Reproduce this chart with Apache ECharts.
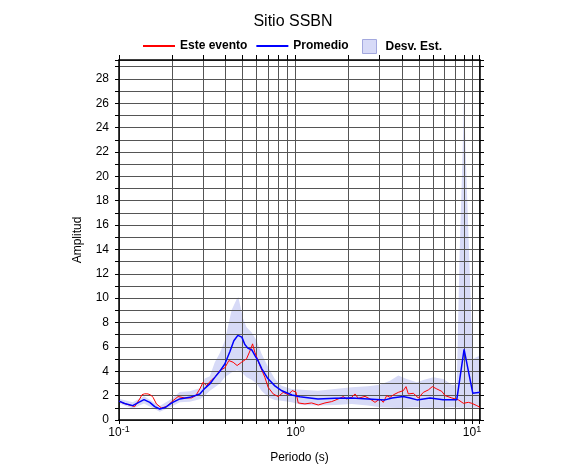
<!DOCTYPE html>
<html><head><meta charset="utf-8">
<script src="https://cdn.jsdelivr.net/npm/echarts@6/dist/echarts.min.js"></script>
<style>html,body{margin:0;padding:0;background:#fff}#c{width:586px;height:475px}</style>
</head><body><div id="c"></div>
<script>
// ---- data ----
const meanPeriod = [0.1, 0.1077, 0.1196, 0.1293, 0.1386, 0.1494, 0.1594, 0.1702, 0.1840, 0.1990, 0.2210, 0.2518, 0.2870, 0.3063, 0.3270, 0.3490, 0.3727, 0.3977, 0.4246, 0.4474, 0.4713, 0.4966, 0.5164, 0.5370, 0.5657, 0.5883, 0.6118, 0.6446, 0.6971, 0.7640, 0.8375, 0.9541, 1.059, 1.340, 1.673, 2.089, 2.575, 3.215, 3.523, 4.067, 4.456, 4.883, 5.785, 6.857, 8.20, 9.02, 10.10, 11.1];
const meanAmp = [1.55, 1.35, 1.18, 1.45, 1.67, 1.45, 1.1, 0.9, 1.05, 1.4, 1.73, 1.86, 2.14, 2.6, 2.96, 3.5, 4.0, 4.6, 5.6, 6.5, 6.95, 6.8, 6.2, 5.9, 5.75, 5.3, 4.9, 4.2, 3.4, 2.8, 2.4, 2.05, 1.9, 1.73, 1.78, 1.8, 1.73, 1.65, 1.8, 1.92, 1.8, 1.65, 1.81, 1.67, 1.67, 5.8, 2.2, 2.27];

const eventPeriod = [0.1, 0.1050, 0.1125, 0.1227, 0.1310, 0.1351, 0.1399, 0.1460, 0.1513, 0.1559, 0.1630, 0.1740, 0.1857, 0.2025, 0.2161, 0.2359, 0.2574, 0.2723, 0.2870, 0.2996, 0.3131, 0.3343, 0.3490, 0.3727, 0.3977, 0.4191, 0.4433, 0.4670, 0.4946, 0.5280, 0.5585, 0.5711, 0.5883, 0.6283, 0.6707, 0.7002, 0.7473, 0.7979, 0.8518, 0.9092, 0.9579, 1.0053, 1.0359, 1.1306, 1.2339, 1.3455, 1.4684, 1.6026, 1.7472, 1.8649, 1.9495, 2.0809, 2.1725, 2.2683, 2.4756, 2.6424, 2.8206, 3.0105, 3.1428, 3.2857, 3.4310, 3.5822, 3.8241, 4.0818, 4.2281, 4.3570, 4.6516, 4.9659, 5.3012, 5.6594, 5.9628, 6.3154, 6.7421, 7.0389, 7.6824, 8.3738, 8.9394, 9.5415, 9.975, 10.647, 11.1];
const eventAmp = [1.55, 1.4, 1.26, 1.1, 1.73, 2.08, 2.15, 2.14, 2.05, 1.86, 1.32, 0.99, 1.1, 1.59, 1.92, 1.81, 1.81, 2.0, 2.55, 3.1, 2.82, 3.29, 3.5, 4.06, 4.28, 4.88, 4.74, 4.47, 4.74, 5.02, 5.84, 6.25, 5.56, 4.47, 3.5, 2.68, 2.14, 1.92, 2.27, 2.08, 2.41, 2.3, 1.40, 1.32, 1.40, 1.23, 1.40, 1.51, 1.73, 1.92, 1.73, 1.86, 2.14, 1.78, 1.94, 1.73, 1.45, 1.73, 1.45, 2.0, 1.86, 2.06, 2.27, 2.41, 2.74, 2.14, 2.19, 1.81, 2.27, 2.47, 2.74, 2.55, 2.35, 2.0, 1.81, 1.65, 1.37, 1.45, 1.37, 1.18, 1.04];

const bandPeriod = [0.1, 0.1196, 0.1386, 0.1702, 0.1990, 0.2210, 0.2518, 0.2870, 0.3063, 0.3270, 0.3490, 0.3727, 0.3977, 0.4342, 0.4633, 0.4744, 0.4837, 0.5050, 0.5280, 0.5636, 0.6017, 0.6421, 0.7002, 0.7640, 0.8342, 0.9504, 1.083, 1.340, 1.673, 2.081, 2.575, 3.011, 3.431, 3.824, 4.267, 4.864, 5.301, 6.04, 6.884, 7.682, 8.20, 8.50, 8.85, 9.02, 9.20, 10.10, 11.1];
const bandUpper = [1.75, 1.45, 1.95, 1.15, 1.75, 2.3, 2.35, 2.6, 3.4, 3.6, 4.74, 5.5, 6.5, 9.0, 9.9, 10.1, 9.55, 8.31, 7.62, 7.21, 6.53, 5.43, 4.33, 3.37, 2.82, 2.55, 2.49, 2.41, 2.55, 2.68, 2.77, 2.9, 3.23, 3.65, 3.37, 3.1, 3.29, 3.5, 3.37, 2.9, 2.9, 13.5, 22.0, 27.0, 22.0, 5.0, 5.3];
const bandLower = [1.35, 0.95, 1.35, 0.68, 1.1, 1.45, 1.5, 1.7, 2.0, 2.4, 2.68, 3.0, 3.5, 3.9, 4.06, 4.05, 4.0, 3.8, 3.5, 3.3, 3.0, 2.41, 1.86, 1.65, 1.59, 1.45, 1.23, 1.18, 1.23, 1.32, 1.18, 1.04, 1.0, 0.99, 1.0, 1.04, 1.0, 0.99, 1.0, 1.04, 1.04, 1.0, 1.0, 1.0, 1.0, 1.0, 1.0];

const xLabelValues = [0.1, 1, 10];
const xTickValues = [0.1, 0.2, 0.3, 0.4, 0.5, 0.6, 0.7, 0.8, 0.9, 1, 2, 3, 4, 5, 6, 7, 8, 9, 10, 11];
const yLabelValues = [0, 2, 4, 6, 8, 10, 12, 14, 16, 18, 20, 22, 24, 26, 28];

// ---- chart ----
const FONT = '"Liberation Sans", Arial, Helvetica, sans-serif';
const zip = (xs, ys) => xs.map((x, i) => [x, ys[i]]);
const X_MIN = 0.1, X_MAX = 11.1, Y_MAX = 29.55;
const GRID_COLOR = '#555';
const BAND_COLOR = '#d7daf7';

const chart = echarts.init(document.getElementById('c'), null, {renderer: 'canvas'});
chart.setOption({
  animation: false,
  textStyle: {fontFamily: FONT, color: '#000'},
  title: {
    text: 'Sitio SSBN', left: 'center', top: 9,
    textStyle: {fontFamily: FONT, fontSize: 16, fontWeight: 'normal', color: '#000'}
  },
  legend: [
    {
      data: [{name: 'Este evento', icon: 'rect'}, {name: 'Promedio', icon: 'rect'}],
      left: 143, top: 40, padding: 0, itemWidth: 32, itemHeight: 2, itemGap: 9,
      textStyle: {fontFamily: FONT, fontSize: 12, fontWeight: 'bold', color: '#000'}
    },
    {
      data: [{name: 'Desv. Est.', icon: 'rect', itemStyle: {color: BAND_COLOR, borderColor: '#a3a8de', borderWidth: 1}}],
      left: 362, top: 39, padding: 0, itemWidth: 14, itemHeight: 14,
      textStyle: {fontFamily: FONT, fontSize: 12, fontWeight: 'bold', color: '#000', padding: [4, 0, 0, 4]}
    }
  ],
  grid: {left: 119, right: 106, top: 60, bottom: 55},
  xAxis: [
    {
      type: 'log', logBase: 10, min: X_MIN, max: X_MAX, position: 'bottom',
      name: 'Periodo (s)', nameLocation: 'middle', nameGap: 32,
      nameTextStyle: {fontFamily: FONT, fontSize: 12, color: '#000'},
      axisLine: {show: true, onZero: false, lineStyle: {color: '#000', width: 1.5}},
      axisTick: {show: true, length: 4, customValues: xTickValues, lineStyle: {color: '#000'}},
      axisLabel: {
        customValues: xLabelValues, margin: 5, color: '#000',
        formatter: v => '{b|10}{s|' + Math.round(Math.log10(v)) + '}',
        rich: {
          b: {fontFamily: FONT, fontSize: 12, lineHeight: 16, color: '#000'},
          s: {fontFamily: FONT, fontSize: 9, lineHeight: 10, verticalAlign: 'top', color: '#000'}
        }
      },
      splitLine: {show: true, lineStyle: {color: GRID_COLOR, width: 1}}
    },
    {
      type: 'log', logBase: 10, min: X_MIN, max: X_MAX, position: 'top',
      axisLine: {show: true, onZero: false, lineStyle: {color: '#000', width: 1.5}},
      axisTick: {show: true, length: 5, customValues: xTickValues, lineStyle: {color: '#000'}},
      axisLabel: {show: false},
      splitLine: {show: false}
    }
  ],
  yAxis: [
    {
      type: 'value', min: 0, max: Y_MAX, interval: 1, position: 'left',
      name: 'Amplitud', nameLocation: 'middle', nameGap: 35,
      nameTextStyle: {fontFamily: FONT, fontSize: 12, color: '#000'},
      axisLine: {show: true, onZero: false, lineStyle: {color: '#000', width: 1.5}},
      axisTick: {show: true, length: 4, lineStyle: {color: '#000'}},
      axisLabel: {customValues: yLabelValues, margin: 10, fontFamily: FONT, fontSize: 12, color: '#000'},
      splitLine: {show: true, lineStyle: {color: GRID_COLOR, width: 1}}
    },
    {
      type: 'value', min: 0, max: Y_MAX, interval: 1, position: 'right',
      axisLine: {show: true, onZero: false, lineStyle: {color: '#000', width: 1.5}},
      axisTick: {show: true, length: 4, lineStyle: {color: '#000'}},
      axisLabel: {show: false},
      splitLine: {show: false}
    }
  ],
  series: [
    {
      name: 'Desv. Est.', type: 'custom', z: -1, silent: true,
      data: bandPeriod.map((t, i) => [t, bandLower[i], bandUpper[i]]),
      encode: {x: 0, y: [1, 2]},
      itemStyle: {color: BAND_COLOR},
      renderItem: (params, api) => {
        if (params.dataIndex !== 0) return null;
        const top = bandPeriod.map((t, i) => api.coord([t, bandUpper[i]]));
        const bot = bandPeriod.map((t, i) => api.coord([t, bandLower[i]])).reverse();
        return {
          type: 'polygon',
          shape: {points: top.concat(bot)},
          style: {fill: BAND_COLOR, stroke: null}
        };
      }
    },
    {
      name: 'Este evento', type: 'line', data: zip(eventPeriod, eventAmp),
      symbol: 'none', itemStyle: {color: '#ff0000'},
      lineStyle: {color: '#ff0000', width: 1}
    },
    {
      name: 'Promedio', type: 'line', data: zip(meanPeriod, meanAmp),
      symbol: 'none', itemStyle: {color: '#0000ff'},
      lineStyle: {color: '#0000ff', width: 1.5}
    }
  ]
});
</script>
</body></html>
